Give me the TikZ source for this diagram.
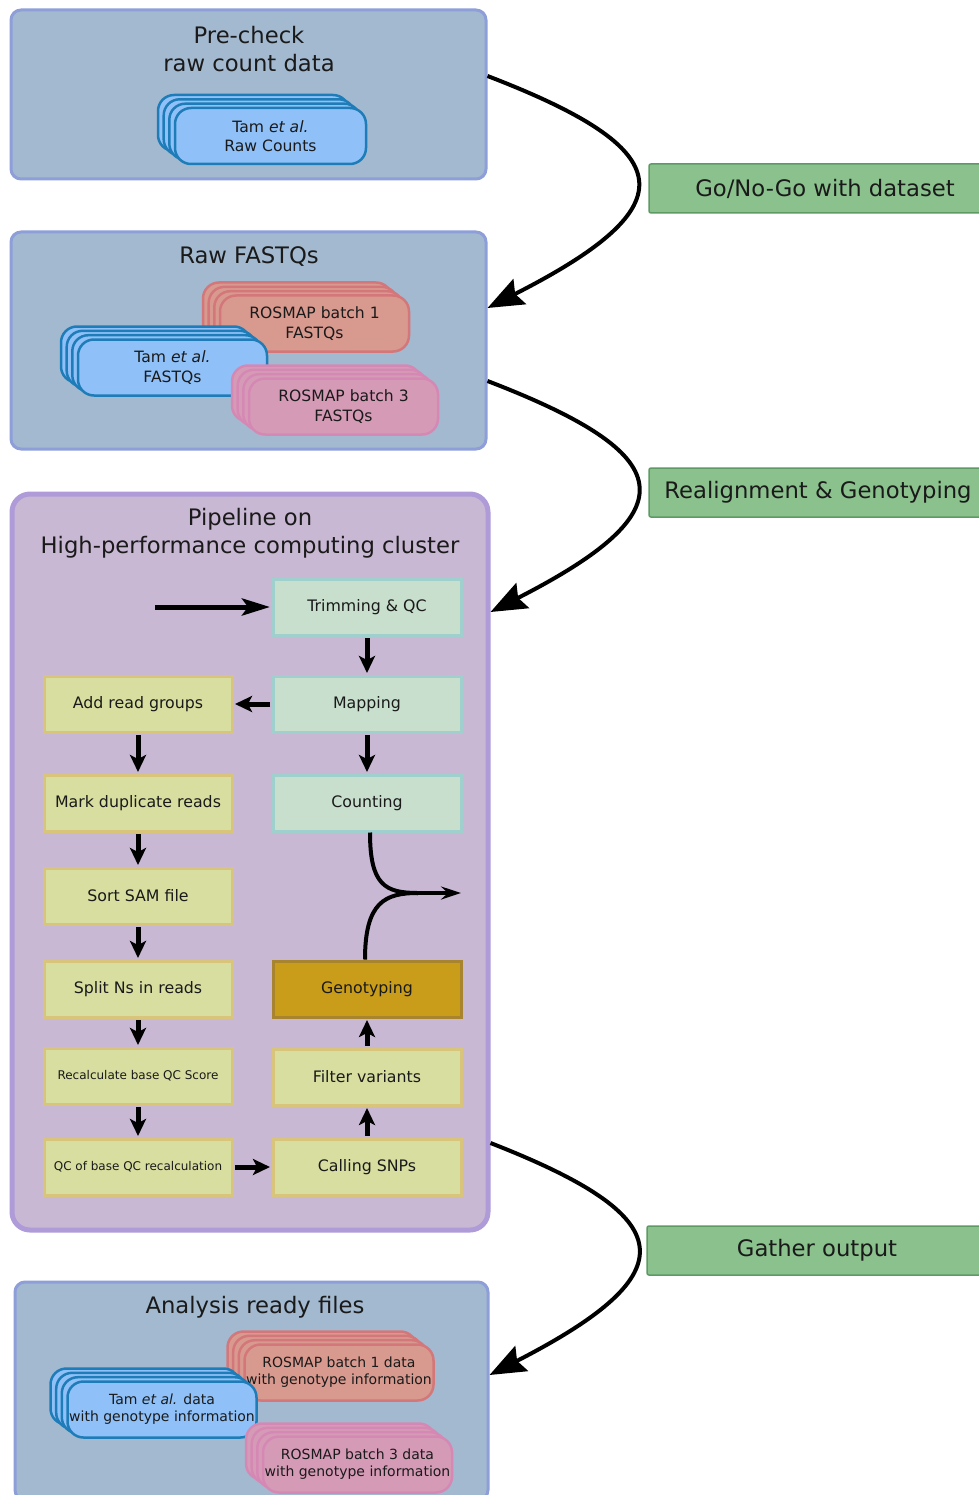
\documentclass[tikz,border=0pt]{standalone}
\usepackage{fontspec}
\setmainfont{DejaVu Sans}
\usetikzlibrary{arrows.meta,shadows,calc}
\definecolor{contf}{HTML}{A3B9CF}
\definecolor{contb}{HTML}{8E9ED8}
\definecolor{pipef}{HTML}{C9B8D4}
\definecolor{pipeb}{HTML}{AE9BD8}
\definecolor{tamf}{HTML}{8FC1F8}
\definecolor{tamb}{HTML}{1E7DB8}
\definecolor{rosaf}{HTML}{D89A8F}
\definecolor{rosab}{HTML}{D3777A}
\definecolor{rosbf}{HTML}{D59BB6}
\definecolor{rosbb}{HTML}{D688B5}
\definecolor{grf}{HTML}{8AC18D}
\definecolor{grb}{HTML}{5E9A64}
\definecolor{tealf}{HTML}{C8DFCD}
\definecolor{tealb}{HTML}{9FD0CE}
\definecolor{yelf}{HTML}{D8DEA0}
\definecolor{yelb}{HTML}{D8C47A}
\definecolor{genof}{HTML}{C99C1A}
\definecolor{genob}{HTML}{A9842E}
\definecolor{txt}{HTML}{1A1A1A}
\begin{document}
\begin{tikzpicture}[x=1pt,y=-1pt, every node/.style={text=txt},
  container/.style={draw=contb, fill=contf, line width=3pt, rounded corners=10pt, inner sep=0pt},
  pipebox/.style={draw=pipeb, fill=pipef, line width=5pt, rounded corners=18pt, inner sep=0pt},
  ttl/.style={font=\fontsize{22.7}{28}\selectfont, align=center, inner sep=0pt},
  proc/.style={minimum width=188pt, minimum height=56pt, inner sep=0pt, line width=3pt, font=\fontsize{15.8}{18}\selectfont, align=center},
  tealbox/.style={proc, draw=tealb, fill=tealf},
  yelbox/.style={proc, draw=yelb, fill=yelf},
  genobox/.style={proc, draw=genob, fill=genof},
  smalltxt/.style={font=\fontsize{12}{14}\selectfont},
  stk/.style 2 args={draw=#2, fill=#1, line width=2.5pt, rounded corners=16pt, inner sep=0pt,
    minimum width=189pt, minimum height=56pt, align=center, font=\fontsize{15.6}{19.5}\selectfont,
    general shadow={shadow xshift=-17pt, shadow yshift=13pt, fill=#1, draw=#2, line width=2.5pt},
    general shadow={shadow xshift=-11.3pt, shadow yshift=8.7pt, fill=#1, draw=#2, line width=2.5pt},
    general shadow={shadow xshift=-5.7pt, shadow yshift=4.3pt, fill=#1, draw=#2, line width=2.5pt}},
  stksmall/.style={font=\fontsize{14}{17}\selectfont},
  greenbox/.style={draw=grb, fill=grf, line width=1.5pt, rounded corners=2pt, inner sep=0pt,
    minimum height=49pt, font=\fontsize{22.7}{26}\selectfont},
  bigarrow/.style={line width=4pt, -{Stealth[length=36pt,width=28pt,inset=5pt]}},
  flow/.style={line width=5pt, shorten <=1.5pt, shorten >=1.5pt, -{Stealth[length=17pt,width=16pt,inset=4pt]}},
  inflow/.style={line width=5pt, shorten >=1.5pt, -{Stealth[length=28pt,width=17pt,inset=6pt]}},
  merge/.style={line width=4pt},
  mergearrow/.style={line width=4pt, -{Stealth[length=20pt,width=13pt,inset=7pt]}}
]
\useasboundingbox (0,0) rectangle (978,1495);

% ---------- Pre-check ----------
\node[container, minimum width=475pt, minimum height=169pt] (pre) at (248.5,94.5) {};
\node[ttl] (pretitle) at (249,49) {Pre-check\\raw count data};
\node[stk={tamf}{tamb}, minimum width=191pt] (tamraw) at (270.5,136) {Tam \textit{et al.}\\Raw Counts};

% ---------- Raw FASTQs ----------
\node[container, minimum width=475pt, minimum height=217pt] (raw) at (248.5,340.5) {};
\node[ttl] (rawtitle) at (249,257) {Raw FASTQs};
\node[stk={rosaf}{rosab}] (ros1fq) at (314.5,323.5) {ROSMAP batch 1\\FASTQs};
\node[stk={tamf}{tamb}] (tamfq) at (172.5,367.5) {Tam \textit{et al.}\\FASTQs};
\node[stk={rosbf}{rosbb}] (ros3fq) at (343.5,406.5) {ROSMAP batch 3\\FASTQs};

% ---------- Pipeline ----------
\node[pipebox, minimum width=476pt, minimum height=736pt] (pipe) at (250,862) {};
\node[ttl] (pipetitle) at (250,533) {Pipeline on\\High-performance computing cluster};

\node[tealbox] (trim) at (367,607) {Trimming \& QC};
\node[tealbox] (map) at (367,704) {Mapping};
\node[tealbox] (count) at (367,803) {Counting};
\node[genobox] (geno) at (367,989) {Genotyping};
\node[yelbox] (filt) at (367,1077) {Filter variants};
\node[yelbox] (call) at (367,1167) {Calling SNPs};

\node[yelbox] (add) at (138,704) {Add read groups};
\node[yelbox] (mark) at (138,803) {Mark duplicate reads};
\node[yelbox] (sort) at (138,896) {Sort SAM file};
\node[yelbox] (split) at (138,989) {Split Ns in reads};
\node[yelbox, smalltxt] (recal) at (138,1076) {Recalculate base QC Score};
\node[yelbox, smalltxt] (qcb) at (138,1167) {QC of base QC recalculation};

\coordinate (instart) at (155,607);
\draw[inflow] (instart) -- (trim.west);
\draw[flow] (trim.south) -- (map.north);
\draw[flow] (map.west) -- (add.east);
\draw[flow] (map.south) -- (count.north);
\draw[flow] (add.south) -- (mark.north);
\draw[flow] (mark.south) -- (sort.north);
\draw[flow] (sort.south) -- (split.north);
\draw[flow] (split.south) -- (recal.north);
\draw[flow] (recal.south) -- (qcb.north);
\draw[flow] (qcb.east) -- (call.west);
\draw[flow] (call.north) -- (filt.south);
\draw[flow] (filt.north) -- (geno.south);

\coordinate (mj) at (418,893);
\coordinate (mo) at (461,893);
\draw[merge] ([xshift=3pt]count.south) .. controls (370,885) and (385,893) .. (mj);
\draw[merge] ([xshift=-2pt]geno.north) .. controls (365,902) and (385,893) .. (mj);
\draw[mergearrow] (mj) -- (mo);

% ---------- Analysis ready files ----------
\node[container, minimum width=473pt, minimum height=218pt] (ana) at (251.5,1391) {};
\node[ttl] (anatitle) at (255,1307) {Analysis ready files};
\node[stk={rosaf}{rosab}, stksmall] (ros1d) at (339,1372.5) {ROSMAP batch 1 data\\with genotype information};
\node[stk={tamf}{tamb}, stksmall] (tamd) at (162,1409.5) {Tam \textit{et al.} data\\with genotype information};
\node[stk={rosbf}{rosbb}, stksmall] (ros3d) at (357.5,1464.5) {ROSMAP batch 3 data\\with genotype information};

% ---------- Green labels ----------
\node[greenbox, minimum width=352pt] (gonogo) at (825,188.5) {Go/No-Go with dataset};
\node[greenbox, minimum width=338pt] (realign) at (818,492.5) {Realignment \& Genotyping};
\node[greenbox, minimum width=340pt] (gather) at (817,1250.5) {Gather output};

% ---------- Big curved arrows ----------
\draw[bigarrow] ([yshift=18.5pt]pre.east) .. controls (680,150) and (690,205) .. ([yshift=32.5pt]raw.east);
\draw[bigarrow] ([yshift=-40.5pt]raw.east) .. controls (680,455) and (690,510) .. ([yshift=250pt]pipe.east);
\draw[bigarrow] ([yshift=-281pt]pipe.east) .. controls (680,1217) and (690,1272) .. ([yshift=16pt]ana.east);
\end{tikzpicture}
\end{document}
